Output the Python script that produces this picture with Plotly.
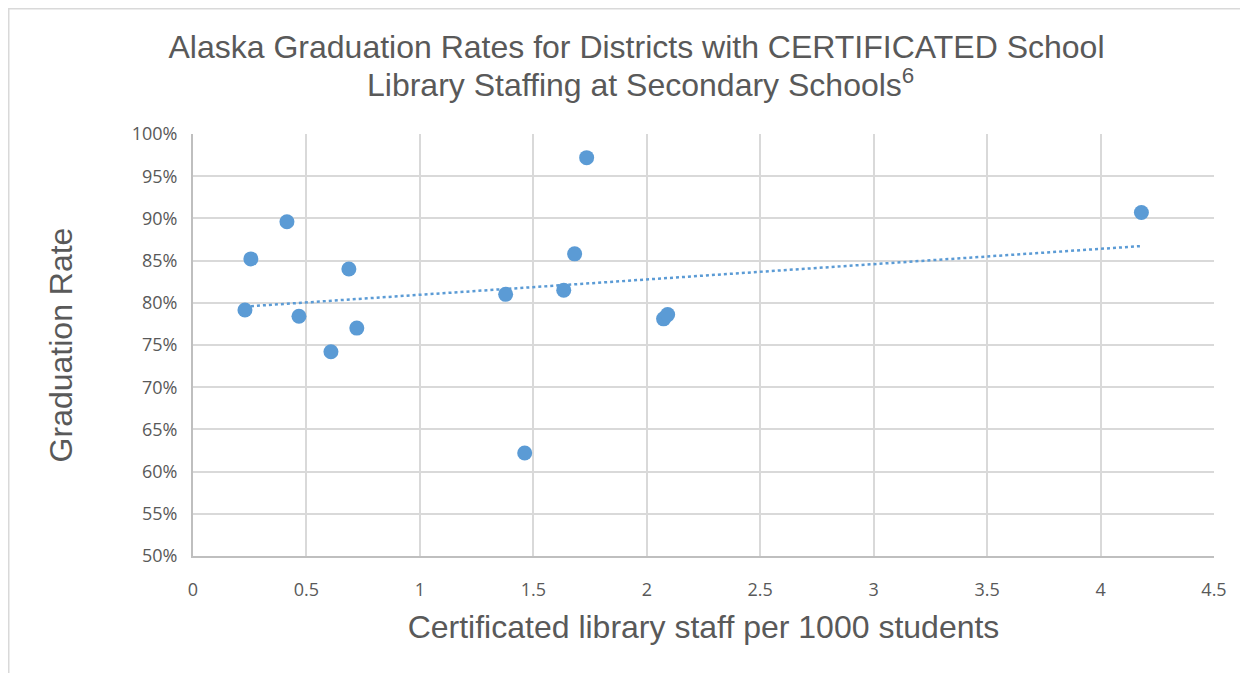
import numpy as np
import plotly.graph_objects as go

staff_per_1000 = [0.229, 0.255, 0.414, 0.467, 0.608, 0.687, 0.722,
                  1.378, 1.462, 1.634, 1.682, 1.735, 2.074, 2.092, 4.180]
grad_rate = [0.7915, 0.852, 0.896, 0.784, 0.742, 0.840, 0.770,
             0.810, 0.622, 0.815, 0.858, 0.972, 0.781, 0.786, 0.907]

x_ticks = [0, 0.5, 1, 1.5, 2, 2.5, 3, 3.5, 4, 4.5]
x_tick_labels = ["0", "0.5", "1", "1.5", "2", "2.5", "3", "3.5", "4", "4.5"]
y_ticks = [0.50, 0.55, 0.60, 0.65, 0.70, 0.75, 0.80, 0.85, 0.90, 0.95, 1.00]
y_tick_labels = ["50%", "55%", "60%", "65%", "70%", "75%", "80%", "85%", "90%", "95%", "100%"]

title_line1 = "Alaska Graduation Rates for Districts with CERTIFICATED School"
title_line2 = "Library Staffing at Secondary Schools<sup>6</sup>"

xs = np.array(staff_per_1000)
ys = np.array(grad_rate)
slope, intercept = np.polyfit(xs, ys, 1)
trend_x = np.array([xs.min(), xs.max()])
trend_y = slope * trend_x + intercept

blue = "#5B9BD5"
text_col = "#595959"

fig = go.Figure()
fig.add_trace(go.Scatter(x=trend_x, y=trend_y, mode="lines",
                         line=dict(color=blue, width=2.5, dash="dot"),
                         hoverinfo="skip", showlegend=False))
fig.add_trace(go.Scatter(x=staff_per_1000, y=grad_rate, mode="markers",
                         marker=dict(color=blue, size=15, line=dict(width=0)),
                         showlegend=False))

# page has an 8px body margin, so figure coordinates are page - 8
W, H = 1240, 665
L, R, T, B = 185, 34, 126, 117
pw = W - L - R
ph = H - T - B

fig.update_layout(
    width=W, height=H,
    margin=dict(l=L, r=R, t=T, b=B),
    paper_bgcolor="white", plot_bgcolor="white",
    title=dict(text=title_line1,
               x=628.5 / W, xanchor="center", xref="container",
               y=1 - 39 / H, yanchor="middle", yref="container",
               font=dict(family="Liberation Sans", size=32, color=text_col)),
    font=dict(family="Open Sans", color=text_col),
    xaxis=dict(range=[0, 4.5], tickvals=x_ticks, ticktext=x_tick_labels,
               showgrid=True, gridcolor="#D9D9D9", gridwidth=2,
               zeroline=False, showline=True, linecolor="#BFBFBF", linewidth=2,
               ticks="", ticklabelstandoff=16, tickfont=dict(size=18, color=text_col),
               title=dict(text="Certificated library staff per 1000 students",
                          font=dict(family="Liberation Sans", size=32, color=text_col),
                          standoff=16)),
    yaxis=dict(range=[0.50, 1.00], tickvals=y_ticks, ticktext=y_tick_labels,
               showgrid=True, gridcolor="#D9D9D9", gridwidth=2,
               zeroline=False, showline=True, linecolor="#BFBFBF", linewidth=2,
               ticks="", ticklabelstandoff=10, tickfont=dict(size=18, color=text_col),
               title=dict(text="Graduation Rate",
                          font=dict(family="Liberation Sans", size=32, color=text_col),
                          standoff=49)),
    annotations=[dict(text=title_line2, xref="paper", yref="paper",
                      x=(632 - L) / pw, y=(H - 75 - B) / ph,
                      xanchor="center", yanchor="middle", showarrow=False,
                      font=dict(family="Liberation Sans", size=32, color=text_col))],
    shapes=[dict(type="rect", xref="paper", yref="paper",
                 x0=(0.5 - L) / pw, x1=(1260 - L) / pw,
                 y0=(H - 690 - B) / ph, y1=(H - 0.5 - B) / ph,
                 line=dict(color="#D9D9D9", width=2), fillcolor="rgba(0,0,0,0)",
                 layer="below")],
)

fig.write_html("out.html")
